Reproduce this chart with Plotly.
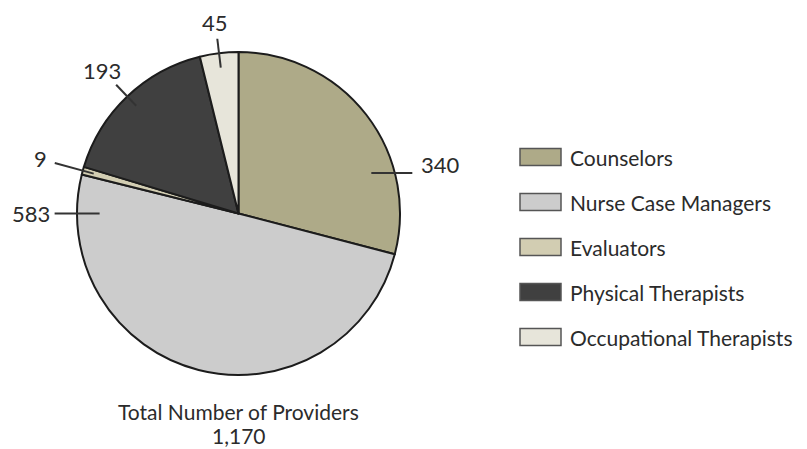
import math
import plotly.graph_objects as go

# ---- data ----
categories = ["Counselors", "Nurse Case Managers", "Evaluators",
              "Physical Therapists", "Occupational Therapists"]
values = [340, 583, 9, 193, 45]
total_label = "Total Number of Providers"
total_value = "1,170"

# ---- style ----
colors = ["#AEAA88", "#CCCCCC", "#D2CDB2", "#404040", "#E7E5DA"]
FONT = "Lato, 'Open Sans', sans-serif"
TXT = "#2b2b2b"
W, H = 807, 449
CX, CY, R = 238.5, 213.5, 161.5

# leader-line style per slice: (kind, angle override, inner r frac, outer r frac / length, text gap, yshift)
leaders = [
    ("h", 73, 0.86, 41, 7, -8),
    ("h", 270, 0.86, 45, 3, 0),
    ("r", None, 0.93, 1.18, 15, 0),
    ("r", None, 0.92, 1.10, 20, 0),
    ("r", None, 0.91, 1.09, 16, 0),
]

def px2paper(x, y):
    return x / W, 1 - y / H

fig = go.Figure()
fig.add_trace(go.Pie(
    labels=categories, values=values, sort=False, direction="clockwise",
    rotation=0, textinfo="none", hoverinfo="label+value",
    marker=dict(colors=colors, line=dict(color="#1c1c1c", width=2)),
    domain=dict(x=[(CX - R) / W, (CX + R) / W], y=[1 - (CY + R) / H, 1 - (CY - R) / H]),
    showlegend=False,
))

shapes = []
annotations = []
tot = sum(values)
cum = 0
for i, v in enumerate(values):
    mid = (cum + v / 2) / tot * 360
    cum += v
    kind, ang, rin, rout, gap, ysh = leaders[i]
    a = math.radians(ang if ang is not None else mid)
    dx, dy = math.sin(a), -math.cos(a)
    x0, y0 = CX + rin * R * dx, CY + rin * R * dy
    if kind == "h":
        sgn = 1 if dx > 0 else -1
        x1, y1 = x0 + sgn * rout, y0
        tx, ty = x1 + sgn * gap, y1 + ysh
        xanchor = "left" if sgn > 0 else "right"
    else:
        x1, y1 = CX + rout * R * dx, CY + rout * R * dy
        tx, ty = x1 + gap * dx, y1 + gap * dy
        xanchor = "center"
    p0 = px2paper(x0, y0)
    p1 = px2paper(x1, y1)
    shapes.append(dict(type="line", xref="paper", yref="paper",
                       x0=p0[0], y0=p0[1], x1=p1[0], y1=p1[1],
                       line=dict(color="#333333", width=2)))
    pt = px2paper(tx, ty)
    annotations.append(dict(x=pt[0], y=pt[1], xref="paper", yref="paper",
                            text=f"{v:,}", showarrow=False, xanchor=xanchor,
                            yanchor="middle", font=dict(family=FONT, size=22, color=TXT)))

# custom legend
LX, LY0, LDY, BW, BH = 520, 157, 45, 41, 17
for i, (c, col) in enumerate(zip(categories, colors)):
    cy = LY0 + i * LDY
    b0 = px2paper(LX, cy - BH / 2)
    b1 = px2paper(LX + BW, cy + BH / 2)
    shapes.append(dict(type="rect", xref="paper", yref="paper",
                       x0=b0[0], y0=b1[1], x1=b1[0], y1=b0[1],
                       fillcolor=col, line=dict(color="#555555", width=1.5)))
    tp = px2paper(LX + BW + 7, cy)
    annotations.append(dict(x=tp[0], y=tp[1], xref="paper", yref="paper",
                            text=c, showarrow=False, xanchor="left", yanchor="middle",
                            font=dict(family=FONT, size=21, color=TXT)))

# total text below pie
t1 = px2paper(CX, 411)
annotations.append(dict(x=t1[0], y=t1[1], xref="paper", yref="paper",
                        text=total_label, showarrow=False, xanchor="center", yanchor="middle",
                        font=dict(family=FONT, size=21, color=TXT)))
t2 = px2paper(CX, 435)
annotations.append(dict(x=t2[0], y=t2[1], xref="paper", yref="paper",
                        text=total_value, showarrow=False, xanchor="center", yanchor="middle",
                        font=dict(family=FONT, size=21, color=TXT)))

fig.update_layout(
    width=W, height=H, margin=dict(l=0, r=0, t=0, b=0),
    paper_bgcolor="white", plot_bgcolor="white",
    shapes=shapes, annotations=annotations, showlegend=False,
)
fig.write_html("out.html", config={"displayModeBar": False},
               post_script="document.body.style.margin='0';document.body.style.overflow='hidden';")
